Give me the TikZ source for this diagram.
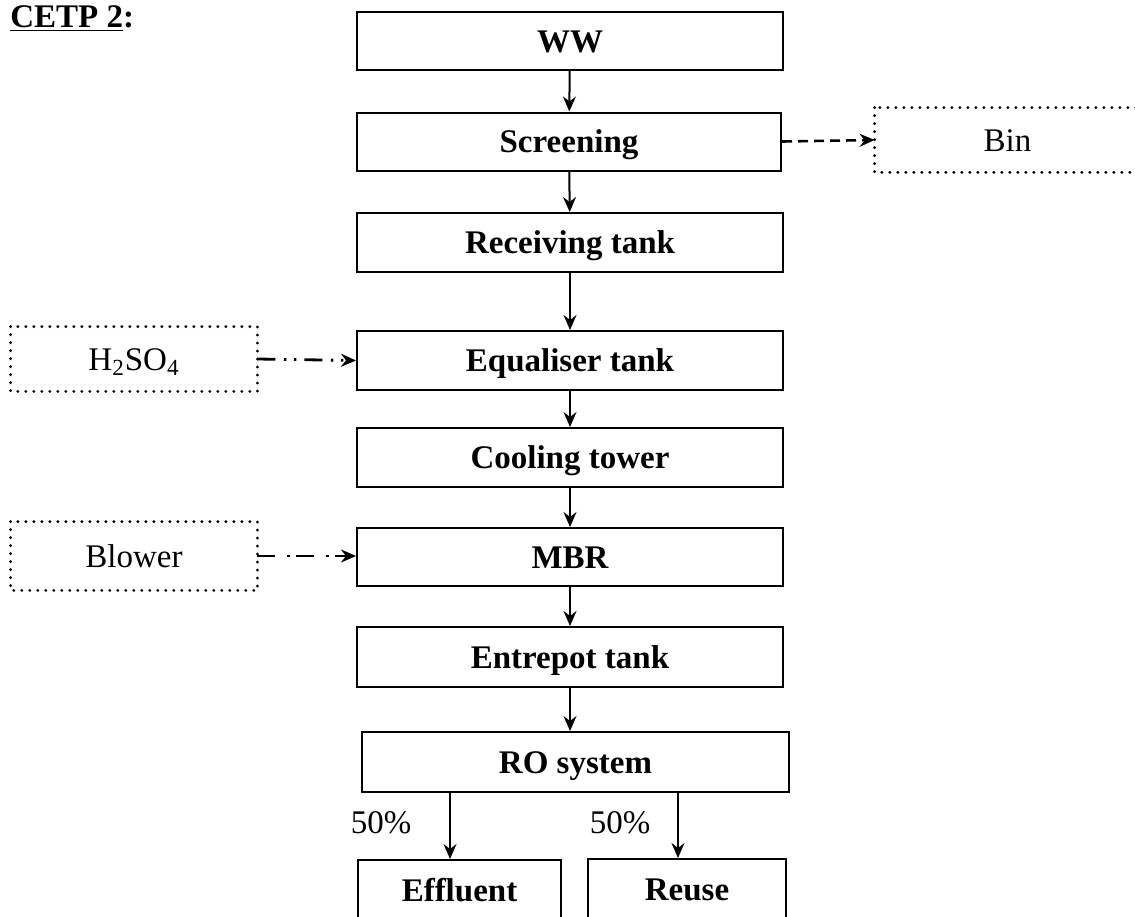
\documentclass[tikz,border=0pt]{standalone}
\usepackage{fontspec}
\setmainfont{Liberation Serif}
\usetikzlibrary{arrows.meta}

\begin{document}
\begin{tikzpicture}[x=0.5pt,y=-0.5pt,
  txt/.style={font=\fontsize{16.5}{20}\selectfont},
  stage/.style={draw,line width=1pt,rectangle,inner sep=0pt,text height=11pt,text depth=0pt,
    font=\fontsize{16.5}{20}\selectfont\bfseries},
  aux/.style={txt,rectangle,inner sep=0pt,text height=11pt,text depth=0pt},
  dotbox/.style={line width=1.6pt,line cap=round,dash pattern=on 0pt off 4pt},
  tip/.style={-{Stealth[length=7.5pt,width=6.5pt,inset=2.5pt]}},
  flow/.style={tip,line width=1pt},
  waste/.style={tip,line width=1.3pt,dash pattern=on 5pt off 3pt},
  dosing/.style={tip,line width=1.4pt,dash pattern=on 9pt off 4.3pt on 1.2pt off 3.8pt on 1.2pt off 4pt},
  air/.style={tip,line width=1.4pt,dash pattern=on 9pt off 6pt on 1.2pt off 3.3pt}
]
\useasboundingbox (0,0) rectangle (1135,916);

% title
\node[anchor=base west,inner sep=0pt,font=\fontsize{16.5}{20}\selectfont\bfseries] (title) at (10,27) {\underline{CETP 2}:};

% main treatment train
\node[stage,minimum width=213pt,minimum height=29pt] (ww)   at (570,41)    {WW};
\node[stage,minimum width=212pt,minimum height=29pt] (scr)  at (569,141.5) {Screening};
\node[stage,minimum width=213pt,minimum height=29.5pt] (rec) at (570,242.5) {Receiving tank};
\node[stage,minimum width=213pt,minimum height=29.5pt] (eq)  at (570,360.5) {Equaliser tank};
\node[stage,minimum width=213pt,minimum height=29.5pt] (ct)  at (570,457.5) {Cooling tower};
\node[stage,minimum width=213pt,minimum height=29pt] (mbr)  at (570,557)   {MBR};
\node[stage,minimum width=213pt,minimum height=30pt] (ent)  at (570,657)   {Entrepot tank};
\node[stage,minimum width=213.5pt,minimum height=30pt] (ro) at (575.5,762) {RO system};
\node[stage,minimum width=101.5pt,minimum height=30pt] (eff) at (459.5,890) {Effluent};
\node[stage,minimum width=99pt,minimum height=30.5pt] (reu)  at (687,889.5) {Reuse};

% auxiliary inputs and outputs (dotted boxes)
\node[aux,minimum width=123pt,minimum height=32pt] (acid)  at (134,359)    {H\textsubscript{2}SO\textsubscript{4}};
\node[aux,minimum width=123pt,minimum height=34pt] (blow)  at (134,556)    {Blower};
\node[aux,minimum width=132.5pt,minimum height=32pt] (bin) at (1007.5,140) {Bin};
\foreach \n in {acid,blow,bin}
  \draw[dotbox] (\n.north west) rectangle (\n.south east);

% main flow
\draw[flow] (ww)  -- (scr);
\draw[flow] (scr) -- (rec);
\draw[flow] (rec) -- (eq);
\draw[flow] (eq)  -- (ct);
\draw[flow] (ct)  -- (mbr);
\draw[flow] (mbr) -- (ent);
\draw[flow] (ent.south) -- (ent.south |- ro.north);
\draw[flow] (ro.south -| 450,0) -- (eff.north -| 450,0);
\draw[flow] (ro.south -| 678,0) -- (reu.north -| 678,0);

% split percentages
\node[txt,anchor=base,inner sep=0pt] (p1) at (381,833) {50\%};
\node[txt,anchor=base,inner sep=0pt] (p2) at (620,833) {50\%};

% side streams
\draw[waste]  (scr.east)  -- (bin.west);
\draw[dosing] (acid.east) -- (eq.west);
\draw[air]    (blow.east) -- (blow.east -| mbr.west);
\end{tikzpicture}
\end{document}
